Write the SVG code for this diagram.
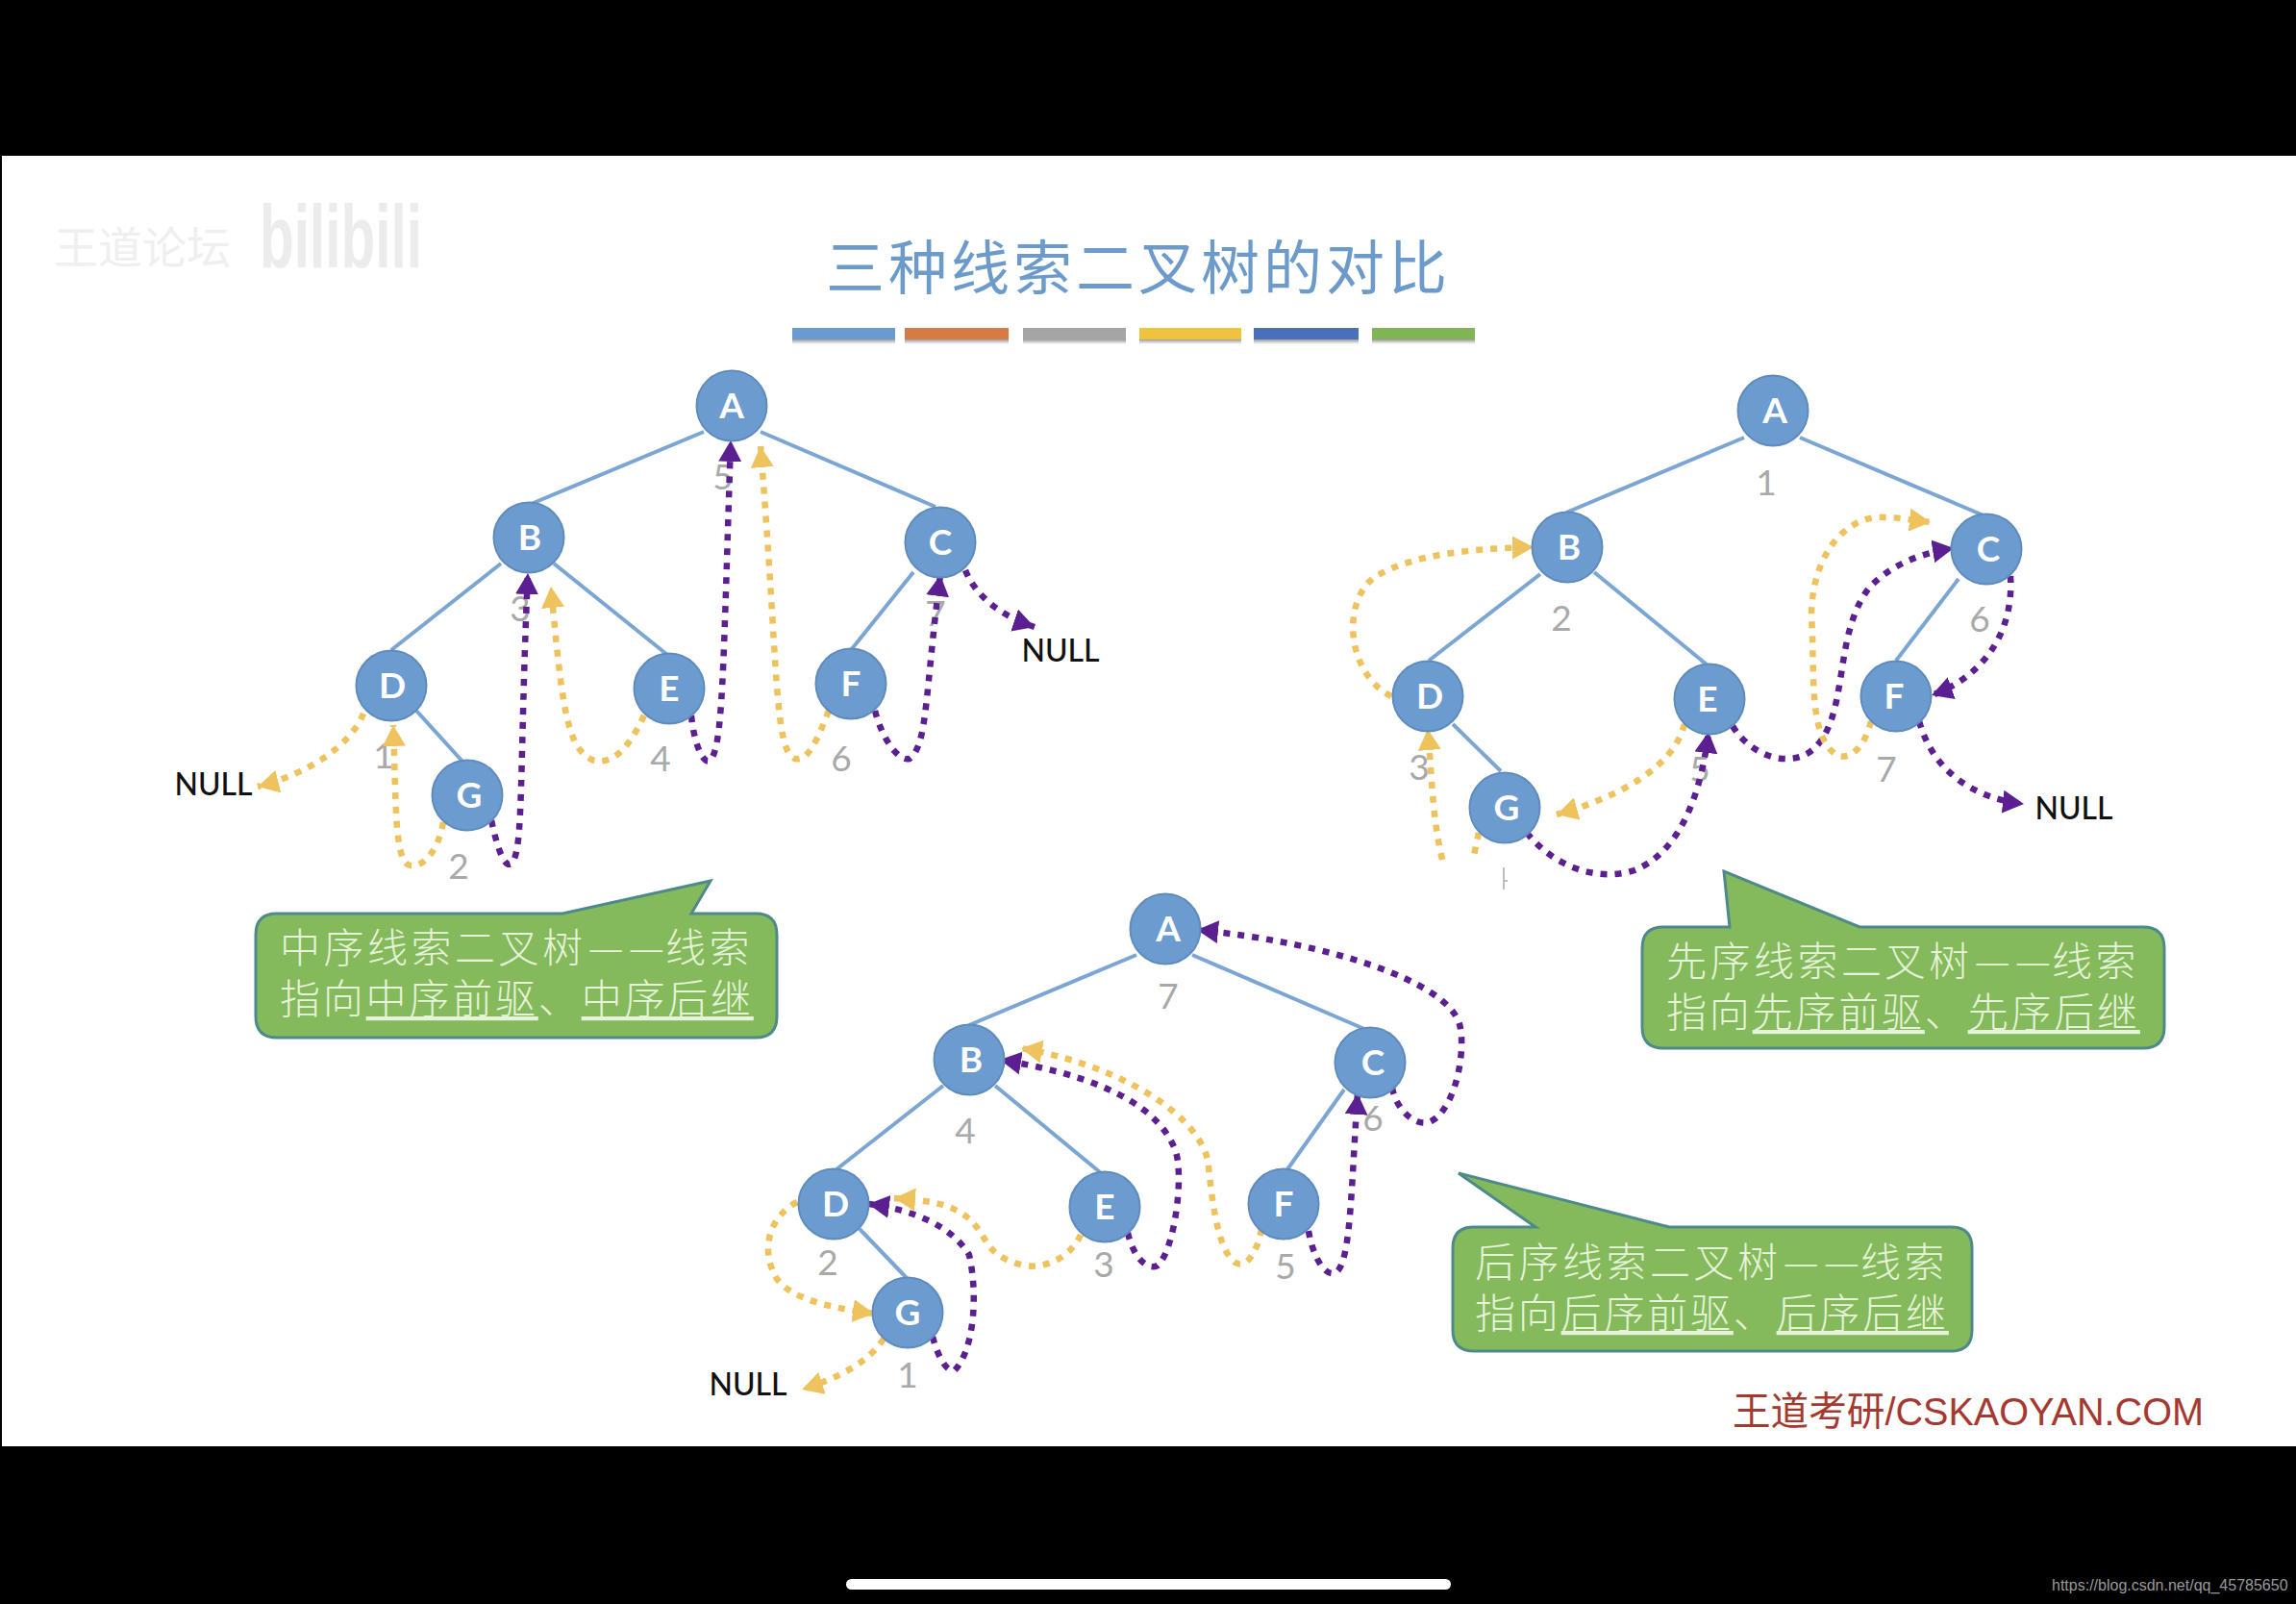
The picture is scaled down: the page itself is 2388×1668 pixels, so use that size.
<svg xmlns="http://www.w3.org/2000/svg" width="2388" height="1668" viewBox="0 0 2388 1668">
<style>
.edge{stroke:#7ba5d3;stroke-width:4;fill:none}
.y{stroke:#eec25c;stroke-width:6.5;stroke-dasharray:7 8;fill:none;marker-end:url(#ay)}
.yn{stroke:#eec25c;stroke-width:6.5;stroke-dasharray:7 8;fill:none}
.p{stroke:#5c1f91;stroke-width:6.5;stroke-dasharray:7 8;fill:none;marker-end:url(#ap)}
.nc{fill:#6c9bd0;stroke:#5f8cbc;stroke-width:2}
.nt{font-family:Lato,"Liberation Sans",sans-serif;font-size:37px;font-weight:700;fill:#fff;text-anchor:middle}
.num{font-family:Lato,"Liberation Sans",sans-serif;font-size:37px;fill:#a9a9a9;text-anchor:middle}
.null{font-family:Lato,"Liberation Sans",sans-serif;font-size:32px;font-weight:500;fill:#111;text-anchor:middle}
.co{fill:#84ba5b;stroke:#4f8a8b;stroke-width:3}
.ct{font-family:"Noto Sans CJK SC","Noto Sans CJK JP",sans-serif;font-size:42px;font-weight:300;fill:#e6f3da;letter-spacing:3.5px;font-variant-ligatures:none;font-feature-settings:"liga" 0,"clig" 0,"calt" 0,"dlig" 0,"ccmp" 0}
.l2{letter-spacing:2.8px}
.d{font-size:42px;letter-spacing:0}
.u{text-decoration:underline}
.bar{stroke:none}
</style>
<defs>
<marker id="ay" markerUnits="userSpaceOnUse" markerWidth="26" markerHeight="26" refX="22" refY="12" orient="auto"><path d="M0,0L22,12L0,24Z" fill="#eec25c"/></marker>
<marker id="ap" markerUnits="userSpaceOnUse" markerWidth="26" markerHeight="26" refX="22" refY="12" orient="auto"><path d="M0,0L22,12L0,24Z" fill="#5c1f91"/></marker>
<linearGradient id="shadow" x1="0" y1="0" x2="0" y2="1"><stop offset="0" stop-color="#888"/><stop offset="1" stop-color="#fff"/></linearGradient>
</defs>

<rect x="0" y="0" width="2388" height="1668" fill="#000"/>
<rect x="2" y="162" width="2386" height="1342" fill="#fff"/>

<g id="watermark">
<text x="56" y="274" font-family="'Noto Sans CJK SC',sans-serif" font-size="46" fill="#efefef">王道论坛</text>
<text x="270" y="278" font-family="'Liberation Sans',sans-serif" font-size="92" font-weight="700" fill="#ececec" textLength="169" lengthAdjust="spacingAndGlyphs">bilibili</text>
</g>

<text id="title" x="1184" y="301" text-anchor="middle" font-family="'Noto Sans CJK SC','Noto Sans CJK JP',sans-serif" font-size="61" font-weight="400" letter-spacing="4" fill="#6c9bcb">三种线索二叉树的对比</text>

<g id="colorbars">
<rect x="824" y="352" width="107" height="6" fill="url(#shadow)"/><rect x="941" y="352" width="108" height="6" fill="url(#shadow)"/><rect x="1064" y="352" width="107" height="6" fill="url(#shadow)"/><rect x="1185" y="352" width="106" height="6" fill="url(#shadow)"/><rect x="1304" y="352" width="109" height="6" fill="url(#shadow)"/><rect x="1427" y="352" width="107" height="6" fill="url(#shadow)"/>
<rect class="bar" x="824" y="341" width="107" height="12" fill="#6a9bd0"/>
<rect class="bar" x="941" y="341" width="108" height="12" fill="#d77b45"/>
<rect class="bar" x="1064" y="341" width="107" height="12" fill="#a5a5a5"/>
<rect class="bar" x="1185" y="341" width="106" height="12" fill="#f0c33f"/>
<rect class="bar" x="1304" y="341" width="109" height="12" fill="#4a70ba"/>
<rect class="bar" x="1427" y="341" width="107" height="12" fill="#7fb554"/>
</g>

<g id="numbers">
<text class="num" x="399" y="799">1</text><text class="num" x="477" y="914">2</text><text class="num" x="541" y="646">3</text><text class="num" x="687" y="802">4</text><text class="num" x="752" y="509">5</text><text class="num" x="875" y="802">6</text><text class="num" x="973" y="651">7</text>
<text class="num" x="1837" y="515">1</text><text class="num" x="1624" y="656">2</text><text class="num" x="1476" y="811">3</text><text class="num" x="1768" y="813">5</text><text class="num" x="2059" y="657">6</text><text class="num" x="1962" y="813">7</text>
<text class="num" x="1215" y="1049">7</text><text class="num" x="1004" y="1189">4</text><text class="num" x="1428" y="1176">6</text><text class="num" x="861" y="1326">2</text><text class="num" x="1148" y="1328">3</text><text class="num" x="1337" y="1330">5</text><text class="num" x="944" y="1443">1</text>
</g>

<g id="connectors">
<g id="tree-edges">
<path class="edge" d="M732,449L550,525M791,449L973,527M521,586L407,676M576,586L693,680M950,595L885,676M433,739L483,794"/>
<path class="edge" d="M1814,455L1629,533M1872,455L2063,536M1602,597L1486,687M1658,595L1775,691M2037,602L1972,687M1511,753L1561,802"/>
<path class="edge" d="M1182,993L1008,1066M1240,993L1419,1070M981,1129L870,1216M1035,1129L1144,1219M1398,1133L1339,1216M894,1278L943,1329"/>
</g>
<g id="threads-inorder">
<path class="y" d="M378,742C365,775 320,805 268,818"/>
<path class="y" d="M461,855C455,890 435,905 424,899C410,890 412,830 409,754"/>
<path class="p" d="M511,853C518,885 525,903 532,898C545,885 540,800 549,596"/>
<path class="y" d="M670,744C655,775 640,795 618,791C590,780 585,740 573,610"/>
<path class="p" d="M719,744C722,775 732,795 738,791C752,780 752,700 760,458"/>
<path class="y" d="M862,739C850,770 840,792 827,789C805,780 810,700 791,464"/>
<path class="p" d="M910,739C918,770 935,792 946,789C965,775 962,720 978,598"/>
<path class="p" d="M1004,593C1015,620 1040,640 1076,652"/>
</g>
<g id="threads-preorder">
<path class="y" d="M1447,724C1400,700 1395,625 1430,600C1470,575 1540,570 1595,569"/>
<path class="y" d="M1500,894C1490,850 1490,820 1485,758"/>
<path class="yn" d="M1538,866C1536,875 1534,885 1532,894"/>
<path class="y" d="M1752,753C1740,800 1680,830 1619,847"/>
<path class="p" d="M1588,866C1615,900 1660,918 1700,905C1750,885 1770,820 1777,761"/>
<path class="p" d="M1802,755C1820,785 1860,800 1885,780C1925,745 1905,660 1945,610C1970,585 2000,575 2032,570"/>
<path class="y" d="M1946,750C1940,775 1925,792 1910,785C1880,765 1888,700 1884,640C1885,570 1925,535 1960,538C1975,538 1990,541 2008,543"/>
<path class="p" d="M2091,599C2095,660 2060,705 2009,723"/>
<path class="p" d="M1996,750C2010,800 2050,830 2105,836"/>
</g>
<g id="threads-postorder">
<path class="p" d="M1448,1131C1452,1155 1475,1175 1490,1165C1515,1150 1525,1090 1518,1065C1505,1020 1380,980 1245,967"/>
<path class="p" d="M1173,1282C1178,1305 1192,1322 1204,1316C1222,1300 1232,1220 1222,1195C1200,1140 1120,1115 1040,1102"/>
<path class="y" d="M1312,1278C1308,1300 1297,1320 1285,1313C1265,1300 1260,1240 1256,1205C1240,1150 1150,1105 1062,1090"/>
<path class="p" d="M1361,1280C1365,1305 1378,1330 1390,1323C1405,1310 1405,1240 1412,1137"/>
<path class="y" d="M1124,1284C1115,1305 1090,1320 1065,1316C1020,1305 1030,1285 1005,1265C985,1250 960,1248 930,1246"/>
<path class="p" d="M970,1390C975,1410 985,1428 993,1425C1012,1405 1018,1350 1008,1305C990,1275 950,1258 903,1252"/>
<path class="y" d="M829,1250C800,1265 790,1300 808,1330C825,1352 865,1360 909,1366"/>
<path class="y" d="M919,1392C905,1415 875,1432 834,1445"/>
</g>
</g>

<g id="null-labels">
<text class="null" x="222" y="827">NULL</text><text class="null" x="1103" y="688">NULL</text><text class="null" x="2157" y="852">NULL</text><text class="null" x="778" y="1451">NULL</text>
</g>
<path id="fleck" d="M1564,902V925M1564,916H1568" stroke="#aaa" stroke-width="1.5" fill="none"/>

<g id="in-A"><circle class="nc" cx="761" cy="422" r="36.5"/><text class="nt" x="761" y="435">A</text></g>
<g id="in-B"><circle class="nc" cx="550" cy="559" r="36.5"/><text class="nt" x="551" y="572">B</text></g>
<g id="in-C"><circle class="nc" cx="978" cy="564" r="36.5"/><text class="nt" x="978" y="577">C</text></g>
<g id="in-D"><circle class="nc" cx="407" cy="713" r="36.5"/><text class="nt" x="408" y="726">D</text></g>
<g id="in-E"><circle class="nc" cx="696" cy="716" r="36.5"/><text class="nt" x="696" y="729">E</text></g>
<g id="in-F"><circle class="nc" cx="885" cy="711" r="36.5"/><text class="nt" x="885" y="724">F</text></g>
<g id="in-G"><circle class="nc" cx="486" cy="827" r="36.5"/><text class="nt" x="488" y="840">G</text></g>

<g id="pre-A"><circle class="nc" cx="1844" cy="427" r="36.5"/><text class="nt" x="1846" y="440">A</text></g>
<g id="pre-B"><circle class="nc" cx="1630" cy="569" r="36.5"/><text class="nt" x="1632" y="582">B</text></g>
<g id="pre-C"><circle class="nc" cx="2066" cy="571" r="36.5"/><text class="nt" x="2068" y="584">C</text></g>
<g id="pre-D"><circle class="nc" cx="1485" cy="724" r="36.5"/><text class="nt" x="1487" y="737">D</text></g>
<g id="pre-E"><circle class="nc" cx="1778" cy="727" r="36.5"/><text class="nt" x="1776" y="740">E</text></g>
<g id="pre-F"><circle class="nc" cx="1972" cy="724" r="36.5"/><text class="nt" x="1970" y="737">F</text></g>
<g id="pre-G"><circle class="nc" cx="1565" cy="840" r="36.5"/><text class="nt" x="1567" y="853">G</text></g>

<g id="post-A"><circle class="nc" cx="1212" cy="966" r="36.5"/><text class="nt" x="1215" y="979">A</text></g>
<g id="post-B"><circle class="nc" cx="1008" cy="1102" r="36.5"/><text class="nt" x="1010" y="1115">B</text></g>
<g id="post-C"><circle class="nc" cx="1425" cy="1105" r="36.5"/><text class="nt" x="1428" y="1118">C</text></g>
<g id="post-D"><circle class="nc" cx="867" cy="1252" r="36.5"/><text class="nt" x="869" y="1265">D</text></g>
<g id="post-E"><circle class="nc" cx="1149" cy="1255" r="36.5"/><text class="nt" x="1149" y="1268">E</text></g>
<g id="post-F"><circle class="nc" cx="1335" cy="1252" r="36.5"/><text class="nt" x="1335" y="1265">F</text></g>
<g id="post-G"><circle class="nc" cx="944" cy="1365" r="36.5"/><text class="nt" x="944" y="1378">G</text></g>

<g id="callout-inorder">
<path class="co" d="M288,950H585L739,916L719,950H786Q808,950 808,972V1057Q808,1079 786,1079H288Q266,1079 266,1057V972Q266,950 288,950Z"/>
<text class="ct" x="291" y="1001">中序线索二叉树<tspan class="d" dx="2">—</tspan><tspan class="d" dx="5">—</tspan><tspan dx="1">线索</tspan></text>
<text class="ct l2" x="291" y="1054">指向<tspan class="u">中序前驱</tspan>、<tspan class="u">中序后继</tspan></text>
</g>
<g id="callout-preorder">
<path class="co" d="M1730,964H1799L1793,906L1934,964H2229Q2251,964 2251,986V1068Q2251,1090 2229,1090H1730Q1708,1090 1708,1068V986Q1708,964 1730,964Z"/>
<text class="ct" x="1733" y="1015">先序线索二叉树<tspan class="d" dx="2">—</tspan><tspan class="d" dx="5">—</tspan><tspan dx="1">线索</tspan></text>
<text class="ct l2" x="1733" y="1068">指向<tspan class="u">先序前驱</tspan>、<tspan class="u">先序后继</tspan></text>
</g>
<g id="callout-postorder">
<path class="co" d="M1533,1276H1597L1517,1220L1736,1276H2029Q2051,1276 2051,1298V1383Q2051,1405 2029,1405H1533Q1511,1405 1511,1383V1298Q1511,1276 1533,1276Z"/>
<text class="ct" x="1534" y="1328">后序线索二叉树<tspan class="d" dx="2">—</tspan><tspan class="d" dx="5">—</tspan><tspan dx="1">线索</tspan></text>
<text class="ct l2" x="1534" y="1381">指向<tspan class="u">后序前驱</tspan>、<tspan class="u">后序后继</tspan></text>
</g>

<text id="brand" x="1802" y="1482" font-family="'Liberation Sans','Noto Sans CJK SC',sans-serif" font-size="40.5" fill="#a5392f" textLength="490" lengthAdjust="spacingAndGlyphs">王道考研/CSKAOYAN.COM</text>
<rect id="home-bar" x="880" y="1642" width="629" height="11" rx="5.5" fill="#fff"/>
<text id="url" x="2134" y="1654" font-family="'Liberation Sans',sans-serif" font-size="16" fill="#999">https://blog.csdn.net/qq_45785650</text>
</svg>
